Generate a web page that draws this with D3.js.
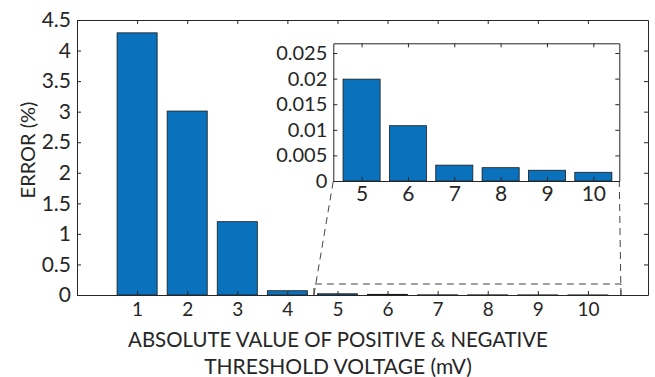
<!DOCTYPE html>
<html>
<head>
<meta charset="utf-8">
<script src="https://cdn.jsdelivr.net/npm/d3@7"></script>
<style>
  html, body { margin: 0; padding: 0; background: #fff; }
  svg text { font-family: Lato, "Noto Sans", sans-serif; fill: #262626; }
</style>
</head>
<body>
<svg id="fig" width="655" height="377"></svg>
<script>
// data
const thresholds = [1, 2, 3, 4, 5, 6, 7, 8, 9, 10];
const errors = [4.29, 3.01, 1.2, 0.07, 0.0199, 0.0108, 0.0031, 0.0026, 0.0021, 0.0017];
const mainYTicks = [0, 0.5, 1, 1.5, 2, 2.5, 3, 3.5, 4, 4.5];
const insetYTicks = [0, 0.005, 0.01, 0.015, 0.02, 0.025];
const insetCats = [5, 6, 7, 8, 9, 10];
const zoomBox = [4.53, 10.66, 0.18];   // x0, x1, y top of dashed box
const xTitle = ["ABSOLUTE VALUE OF POSITIVE & NEGATIVE", "THRESHOLD VOLTAGE (mV)"];
const yTitle = "ERROR (%)";

const barColor = "#0a72bc";
const axisColor = "#262626";
const svg = d3.select("#fig");
svg.append("rect").attr("width", 655).attr("height", 377).attr("fill", "#fff");

// main axes
const x = d3.scaleLinear().domain([-0.2, 11.2]).range([77, 648]);
const y = d3.scaleLinear().domain([0, 4.5]).range([295, 20]);

const main = svg.append("g");
main.selectAll("rect.bar")
  .data(thresholds.map((t, i) => ({t, v: errors[i]})))
  .join("rect")
  .attr("class", "bar")
  .attr("x", d => x(d.t - 0.4))
  .attr("width", d => x(d.t + 0.4) - x(d.t - 0.4))
  .attr("y", d => y(d.v))
  .attr("height", d => y(0) - y(d.v))
  .attr("fill", barColor)
  .attr("stroke", "#1a1a1a")
  .attr("stroke-width", 0.8);

function box(g, xs, ys, xt, yt, fx, fy, sizes){
  // bottom
  g.append("g").attr("transform", `translate(0,${ys.range()[0]})`)
    .call(d3.axisBottom(xs).tickValues(xt).tickSize(-4).tickSizeOuter(0).tickPadding(sizes.xpad).tickFormat(fx))
    .call(a => a.selectAll("text").style("font-size", sizes.x + "px"));
  // top
  g.append("g").attr("transform", `translate(0,${ys.range()[1]})`)
    .call(d3.axisTop(xs).tickValues(xt).tickSize(-4).tickSizeOuter(0).tickFormat(""));
  // left
  g.append("g").attr("transform", `translate(${xs.range()[0]},0)`)
    .call(d3.axisLeft(ys).tickValues(yt).tickSize(-4).tickSizeOuter(0).tickPadding(sizes.ypad).tickFormat(fy))
    .call(a => a.selectAll("text").style("font-size", sizes.y + "px"));
  // right
  g.append("g").attr("transform", `translate(${xs.range()[1]},0)`)
    .call(d3.axisRight(ys).tickValues(yt).tickSize(-4).tickSizeOuter(0).tickFormat(""));
  g.selectAll(".domain, .tick line").attr("stroke", axisColor).attr("stroke-width", 1);
  g.selectAll(".tick text").attr("fill", axisColor).style("font-family", "Lato, 'Noto Sans', sans-serif");
}

box(main, x, y, thresholds, mainYTicks, d => d, d => d, {x: 19, y: 21, xpad: 8, ypad: 6});

// dashed zoom box and connectors
const dash = svg.append("g").attr("fill", "none").attr("stroke", "#444")
  .attr("stroke-width", 1).attr("stroke-dasharray", "7,5");
dash.append("path")
  .attr("d", `M${x(zoomBox[0])},${y(0)}V${y(zoomBox[2])}H${x(zoomBox[1])}V${y(0)}`);

// inset axes
const xi = d3.scaleLinear().domain([4.39, 10.56]).range([333.3, 619.3]);
const yi = d3.scaleLinear().domain([0, 0.0269]).range([181, 43.3]);

dash.append("line").attr("x1", x(zoomBox[0])).attr("y1", y(0)).attr("x2", xi.range()[0]).attr("y2", yi.range()[0]);
dash.append("line").attr("x1", x(zoomBox[1])).attr("y1", y(0)).attr("x2", xi.range()[1]).attr("y2", yi.range()[0]);

const inset = svg.append("g");
inset.append("rect")
  .attr("x", xi.range()[0]).attr("y", yi.range()[1])
  .attr("width", xi.range()[1] - xi.range()[0])
  .attr("height", yi.range()[0] - yi.range()[1])
  .attr("fill", "#fff");
inset.selectAll("rect.bar")
  .data(insetCats.map(t => ({t, v: errors[thresholds.indexOf(t)]})))
  .join("rect")
  .attr("class", "bar")
  .attr("x", d => xi(d.t - 0.4))
  .attr("width", d => xi(d.t + 0.4) - xi(d.t - 0.4))
  .attr("y", d => yi(d.v))
  .attr("height", d => yi(0) - yi(d.v))
  .attr("fill", barColor)
  .attr("stroke", "#1a1a1a")
  .attr("stroke-width", 0.8);

box(inset, xi, yi, insetCats, insetYTicks, d => d, d => d, {x: 21, y: 20, xpad: 5, ypad: 6});

// titles
svg.append("text")
  .attr("transform", "translate(35,150) rotate(-90)")
  .attr("text-anchor", "middle")
  .style("font-size", "20px")
  .text(yTitle);

svg.selectAll("text.xtitle")
  .data(xTitle)
  .join("text")
  .attr("class", "xtitle")
  .attr("x", 338)
  .attr("y", (d, i) => 346.7 + i * 27)
  .attr("text-anchor", "middle")
  .style("font-size", (d, i) => i === 0 ? "20.4px" : "21px")
  .text(d => d);
</script>
</body>
</html>
